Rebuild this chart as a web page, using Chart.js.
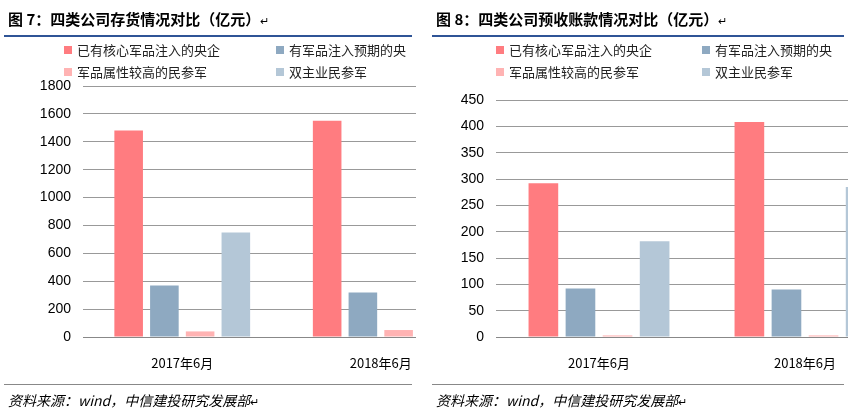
<!DOCTYPE html>
<html><head><meta charset="utf-8">
<script src="https://cdn.jsdelivr.net/npm/chart.js@4"></script>
<style>
body{margin:0;width:848px;height:420px;background:#fff;font-family:"Noto Sans CJK SC",sans-serif;position:relative;overflow:hidden}
.panel{position:absolute;top:0;height:420px;overflow:hidden}
.panel canvas{position:absolute;left:0;top:0}
.title{position:absolute;top:8px;left:8px;font-size:15px;font-weight:bold;color:#000;white-space:nowrap}
.tline{position:absolute;top:35px;left:4px;right:4px;height:2px;background:#2F5496}
.leg{position:absolute;font-size:13px;color:#222;white-space:nowrap}
.leg i{display:inline-block;width:8px;height:8px;margin-right:5px;vertical-align:1px}
.fline{position:absolute;top:384px;left:4px;right:4px;height:1px;background:#888}
.foot{position:absolute;top:390px;left:8px;font-size:14px;font-style:italic;color:#000;white-space:nowrap}
</style></head><body>
<div class="panel" id="p1" style="left:0;width:416px">
  <canvas id="c1" width="480" height="420"></canvas>
  <div class="title">图 7：四类公司存货情况对比（亿元）<span style="font-weight:normal;font-size:11px">↵</span></div>
  <div class="tline"></div>
  <div class="leg" style="left:64px;top:40px"><i style="background:#FF7C80"></i>已有核心军品注入的央企</div>
  <div class="leg" style="left:276px;top:40px"><i style="background:#8EA9C1"></i>有军品注入预期的央</div>
  <div class="leg" style="left:64px;top:62px"><i style="background:#FFB3B3"></i>军品属性较高的民参军</div>
  <div class="leg" style="left:276px;top:62px"><i style="background:#B4C7D7"></i>双主业民参军</div>
  <div class="fline"></div>
  <div class="foot">资料来源：wind，中信建投研究发展部<span style="font-style:normal;font-size:11px">↵</span></div>
</div>
<div class="panel" id="p2" style="left:428px;width:420px">
  <canvas id="c2" width="480" height="420"></canvas>
  <div class="title">图 8：四类公司预收账款情况对比（亿元）<span style="font-weight:normal;font-size:11px">↵</span></div>
  <div class="tline"></div>
  <div class="leg" style="left:68px;top:40px"><i style="background:#FF7C80"></i>已有核心军品注入的央企</div>
  <div class="leg" style="left:274px;top:40px"><i style="background:#8EA9C1"></i>有军品注入预期的央</div>
  <div class="leg" style="left:68px;top:62px"><i style="background:#FFB3B3"></i>军品属性较高的民参军</div>
  <div class="leg" style="left:274px;top:62px"><i style="background:#B4C7D7"></i>双主业民参军</div>
  <div class="fline"></div>
  <div class="foot">资料来源：wind，中信建投研究发展部<span style="font-style:normal;font-size:11px">↵</span></div>
</div>
<script>
var categories = ['2017年6月', '2018年6月'];
var seriesNames = ['已有核心军品注入的央企', '有军品注入预期的央企', '军品属性较高的民参军', '双主业民参军'];
var colors = ['#FF7C80', '#8EA9C1', '#FFB3B3', '#B4C7D7'];
// 存货 (亿元)
var inventory = [
  [1480, 1550],
  [370, 320],
  [40, 50],
  [750, 760]
];
// 预收账款 (亿元)
var advance = [
  [292, 408],
  [92, 90],
  [3, 3],
  [182, 285]
];

function makeChart(id, data, max, step, yWidth, top) {
  new Chart(document.getElementById(id), {
    type: 'bar',
    data: {
      labels: categories,
      datasets: data.map(function (d, i) {
        return { label: seriesNames[i], data: d, backgroundColor: colors[i],
                 barPercentage: 0.8, categoryPercentage: 0.72 };
      })
    },
    options: {
      responsive: false, animation: false, devicePixelRatio: 1,
      layout: { padding: { top: top, left: 0, right: 0, bottom: 0 } },
      plugins: { legend: { display: false }, tooltip: { enabled: false } },
      scales: {
        x: {
          grid: { display: false },
          border: { color: '#888' },
          ticks: { color: '#000', font: { size: 13, family: 'Noto Sans CJK SC' }, padding: 10 },
          afterFit: function (s) { s.height = 420 - 337; }
        },
        y: {
          min: 0, max: max,
          ticks: { stepSize: step, color: '#000', font: { size: 14, family: 'Liberation Sans' }, padding: 12,
                   callback: function (v) { return String(v); } },
          grid: { color: '#999', drawTicks: false },
          border: { display: false },
          afterFit: function (s) { s.width = yWidth; }
        }
      }
    }
  });
}
makeChart('c1', inventory, 1800, 200, 83, 86);
makeChart('c2', advance, 450, 50, 68, 100);
</script>
</body></html>
